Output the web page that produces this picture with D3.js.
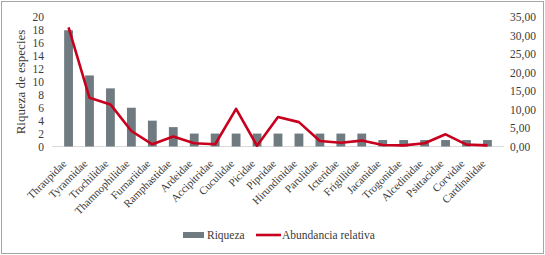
<!DOCTYPE html>
<html>
<head>
<meta charset="utf-8">
<script src="https://cdn.jsdelivr.net/npm/d3@7"></script>
<style>
  body { margin: 0; background: #fff; }
  svg text { font-family: "Liberation Serif", "Times New Roman", serif !important; fill: #3a3a3a; }
</style>
</head>
<body>
<script>
const families = ['Thraupidae', 'Tyrannidae', 'Trochilidae', 'Thamnophilidae', 'Furnariidae',
  'Ramphastidae', 'Ardeidae', 'Accipitridae', 'Cuculidae', 'Picidae', 'Pipridae',
  'Hirundinidae', 'Parulidae', 'Icteridae', 'Frigillidae', 'Jacanidae', 'Trogonidae',
  'Alcedinidae', 'Psittacidae', 'Corvidae', 'Cardinalidae'];
const riqueza = [18, 11, 9, 6, 4, 3, 2, 2, 2, 2, 2, 2, 2, 2, 2, 1, 1, 1, 1, 1, 1];
const abundancia = [32.3, 13.2, 11.4, 4.2, 0.6, 2.7, 0.9, 0.6, 10.2, 0.2, 8.0,
  6.6, 1.5, 1.0, 1.6, 0.4, 0.3, 0.9, 3.3, 0.5, 0.3];
const leftTicks = [0, 2, 4, 6, 8, 10, 12, 14, 16, 18, 20];
const rightTicks = [0, 5, 10, 15, 20, 25, 30, 35];

window.onload = function () {
  const W = 545, H = 255;
  const M = { left: 52, right: 504, top: 17.3, bottom: 146.5 };
  const FONT = '"Liberation Serif", "Times New Roman", serif';

  const svg = d3.select('body').append('svg')
    .attr('width', W).attr('height', H)
    .attr('font-family', FONT);

  // outer frame
  svg.append('rect')
    .attr('x', 1.5).attr('y', 1.5)
    .attr('width', W - 3).attr('height', H - 3)
    .attr('fill', 'none').attr('stroke', '#a6a6a6');

  const x = d3.scaleBand().domain(families).range([M.left, M.right]).padding(0.58);
  const yL = d3.scaleLinear().domain([0, 20]).range([M.bottom, M.top]);
  const yR = d3.scaleLinear().domain([0, 35]).range([M.bottom, M.top]);

  // baseline
  svg.append('line')
    .attr('x1', M.left).attr('x2', M.right)
    .attr('y1', M.bottom).attr('y2', M.bottom)
    .attr('stroke', '#d9d9d9');

  svg.append('g').selectAll('rect')
    .data(families)
    .join('rect')
    .attr('x', d => x(d))
    .attr('width', x.bandwidth())
    .attr('y', (d, i) => yL(riqueza[i]))
    .attr('height', (d, i) => yL(0) - yL(riqueza[i]))
    .attr('fill', '#6f7b81');

  const line = d3.line()
    .x((d, i) => x(families[i]) + x.bandwidth() / 2)
    .y(d => yR(d));

  svg.append('path')
    .datum(abundancia)
    .attr('d', line)
    .attr('fill', 'none')
    .attr('stroke', '#c8001e')
    .attr('stroke-width', 2.6)
    .attr('stroke-linejoin', 'round');

  const leftAxis = d3.axisLeft(yL).tickValues(leftTicks).tickSize(0).tickPadding(0);
  svg.append('g')
    .attr('transform', 'translate(44, 0)')
    .call(leftAxis)
    .attr('font-family', FONT)
    .call(g => g.select('.domain').remove())
    .selectAll('text').style('font-size', '11.5px');

  const fmt = d => d3.format('.2f')(d).replace('.', ',');
  const rightAxis = d3.axisRight(yR).tickValues(rightTicks).tickFormat(fmt).tickSize(0).tickPadding(0);
  svg.append('g')
    .attr('transform', 'translate(510, 0)')
    .call(rightAxis)
    .attr('font-family', FONT)
    .call(g => g.select('.domain').remove())
    .selectAll('text').style('font-size', '11.5px');

  // x labels
  const xAxis = d3.axisBottom(x).tickSize(0).tickPadding(0);
  svg.append('g')
    .attr('transform', `translate(-4, ${M.bottom + 15})`)
    .call(xAxis)
    .attr('font-family', FONT)
    .call(g => g.select('.domain').remove())
    .selectAll('text')
    .style('font-size', '11px')
    .attr('text-anchor', 'end')
    .attr('dy', '0.35em')
    .attr('transform', 'rotate(-45)');

  svg.append('text')
    .attr('transform', 'translate(25, 82) rotate(-90)')
    .attr('text-anchor', 'middle')
    .style('font-size', '13px')
    .text('Riqueza de especies');

  // legend
  const lg = svg.append('g').attr('transform', 'translate(0, 235)');
  lg.append('rect').attr('x', 183).attr('y', -3).attr('width', 21).attr('height', 6).attr('fill', '#6f7b81');
  lg.append('text').attr('x', 207).attr('y', 4).style('font-size', '11.5px').text('Riqueza');
  lg.append('line').attr('x1', 256).attr('x2', 281).attr('y1', 0).attr('y2', 0)
    .attr('stroke', '#c8001e').attr('stroke-width', 2.6);
  lg.append('text').attr('x', 282).attr('y', 4).style('font-size', '11.5px').text('Abundancia relativa');
};
</script>
</body>
</html>
